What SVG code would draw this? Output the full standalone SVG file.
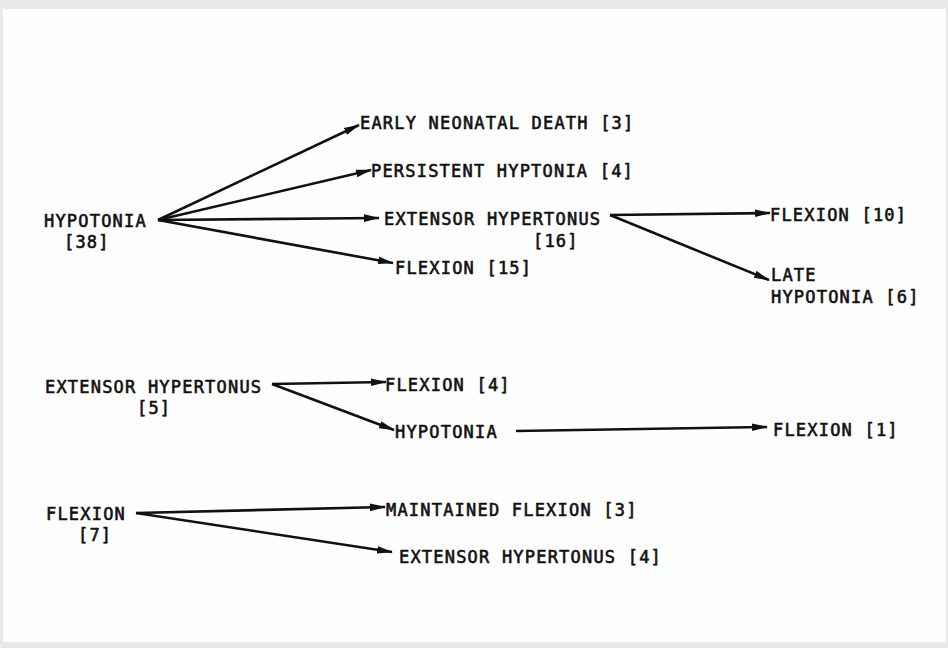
<svg xmlns="http://www.w3.org/2000/svg" width="948" height="648" viewBox="0 0 948 648">
<defs>
<style>
text{font-family:"DejaVu Sans Mono","Liberation Mono",monospace;font-size:17px;letter-spacing:1.2px;fill:#111;stroke:#111;stroke-width:0.6px;}
.c line{stroke:#111;stroke-width:2.6;marker-end:url(#ah);}
</style>
<marker id="ah" markerUnits="userSpaceOnUse" markerWidth="16" markerHeight="10" refX="15" refY="5" orient="auto">
<path d="M0,1.2 L16,5 L0,8.8 Z" fill="#111"/>
</marker>
</defs>
<rect x="0" y="0" width="948" height="648" fill="#e9e9e9"/>
<rect x="3" y="9" width="943" height="633" fill="#fefefe"/>
<g class="c" id="connectors">
<line x1="158" y1="220" x2="359" y2="125"/>
<line x1="158" y1="220" x2="371" y2="170"/>
<line x1="158" y1="220" x2="379" y2="218"/>
<line x1="158" y1="220" x2="393" y2="263"/>
<line x1="610" y1="215" x2="770" y2="213"/>
<line x1="610" y1="215" x2="769" y2="280"/>
<line x1="272" y1="384" x2="386" y2="382"/>
<line x1="272" y1="384" x2="394" y2="430"/>
<line x1="516" y1="431" x2="767" y2="427"/>
<line x1="136" y1="513" x2="385" y2="507"/>
<line x1="136" y1="513" x2="392" y2="552"/>
</g>
<g id="n-hypotonia38"><text x="44" y="227">HYPOTONIA</text><text x="64" y="248">[38]</text></g>
<g id="n-early"><text x="360" y="129">EARLY NEONATAL DEATH [3]</text></g>
<g id="n-persistent"><text x="371" y="177">PERSISTENT HYPTONIA [4]</text></g>
<g id="n-ext16"><text x="384" y="225">EXTENSOR HYPERTONUS</text><text x="533" y="247">[16]</text></g>
<g id="n-flex15"><text x="395" y="274">FLEXION [15]</text></g>
<g id="n-flex10"><text x="770" y="221">FLEXION [10]</text></g>
<g id="n-late"><text x="771" y="281">LATE</text><text x="771" y="303">HYPOTONIA [6]</text></g>
<g id="n-ext5"><text x="45" y="393">EXTENSOR HYPERTONUS</text><text x="137" y="414">[5]</text></g>
<g id="n-flex4"><text x="385" y="391">FLEXION [4]</text></g>
<g id="n-hypotonia"><text x="395" y="438">HYPOTONIA</text></g>
<g id="n-flex1"><text x="773" y="436">FLEXION [1]</text></g>
<g id="n-flex7"><text x="46" y="520">FLEXION</text><text x="78" y="541">[7]</text></g>
<g id="n-maint"><text x="386" y="516">MAINTAINED FLEXION [3]</text></g>
<g id="n-ext4"><text x="399" y="563">EXTENSOR HYPERTONUS [4]</text></g>
</svg>
